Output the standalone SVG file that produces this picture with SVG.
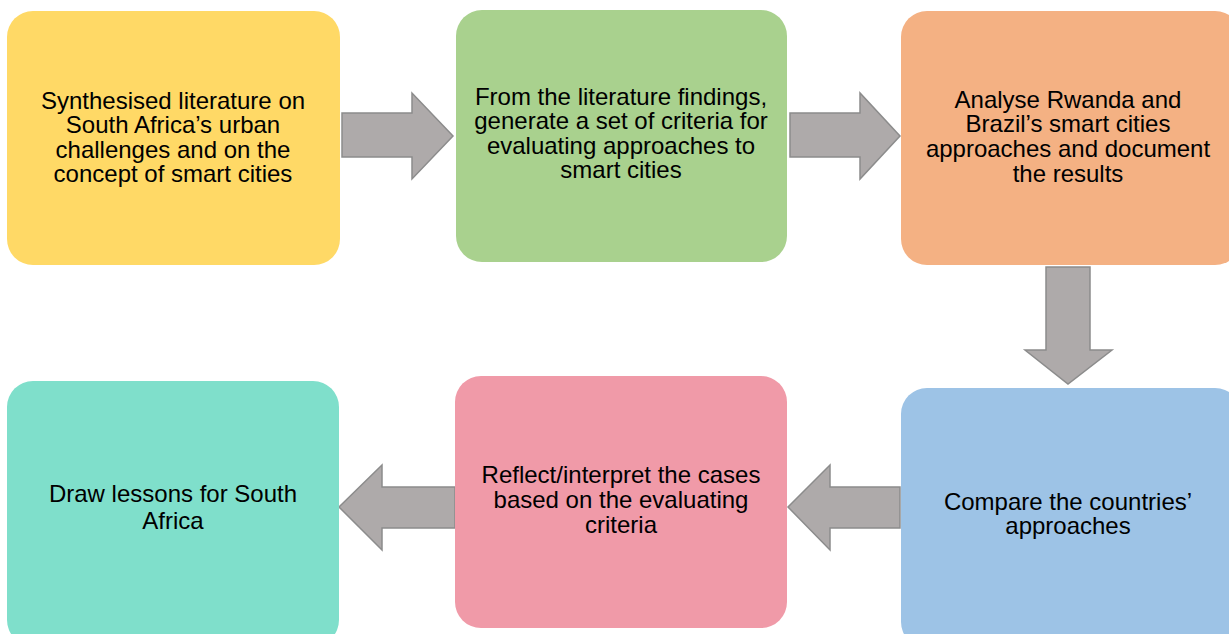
<svg xmlns="http://www.w3.org/2000/svg" width="1229" height="634" viewBox="0 0 1229 634">
<style>
text{font-family:"Liberation Sans",Arial,sans-serif;font-size:24px;fill:#000;text-anchor:middle}
.arr{fill:#AEAAAA;stroke:#8C8C8C;stroke-width:1.5}
</style>
<rect width="1229" height="634" fill="#fff"/>
<g id="connectors">
<polygon class="arr" points="342,113 412,113 412,93 453,136 412,179 412,157 342,157"/>
<polygon class="arr" points="790,113 860,113 860,93 900,136 860,179 860,157 790,157"/>
<polygon class="arr" points="1046,267 1090,267 1090,350 1112,350 1068,384 1025,350 1046,350"/>
<polygon class="arr" points="455,487 382,487 382,465 339,507 382,550 382,528 455,528"/>
<polygon class="arr" points="900,487 830,487 830,465 788,507 830,550 830,528 900,528"/>
</g>
<g id="n1"><rect x="7" y="11" width="333" height="254" rx="26" fill="#FFD966"/>
<text x="173" y="109">Synthesised literature on</text><text x="173" y="133">South Africa’s urban</text><text x="173" y="158">challenges and on the</text><text x="173" y="182">concept of smart cities</text></g>
<g id="n2"><rect x="456" y="10" width="331" height="252" rx="26" fill="#A9D18E"/>
<text x="621" y="105">From the literature findings,</text><text x="621" y="129">generate a set of criteria for</text><text x="621" y="154">evaluating approaches to</text><text x="621" y="178">smart cities</text></g>
<g id="n3"><rect x="901" y="11" width="340" height="254" rx="26" fill="#F4B183"/>
<text x="1068" y="108">Analyse Rwanda and</text><text x="1068" y="132">Brazil’s smart cities</text><text x="1068" y="157">approaches and document</text><text x="1068" y="182">the results</text></g>
<g id="n6"><rect x="901" y="388" width="340" height="260" rx="26" fill="#9DC3E6"/>
<text x="1068" y="510">Compare the countries’</text><text x="1068" y="534">approaches</text></g>
<g id="n5"><rect x="455" y="376" width="332" height="252" rx="26" fill="#F09AA8"/>
<text x="621" y="483">Reflect/interpret the cases</text><text x="621" y="508">based on the evaluating</text><text x="621" y="533">criteria</text></g>
<g id="n4"><rect x="7" y="381" width="332" height="265" rx="26" fill="#7FDFCB"/>
<text x="173" y="502">Draw lessons for South</text><text x="173" y="529">Africa</text></g>
</svg>
